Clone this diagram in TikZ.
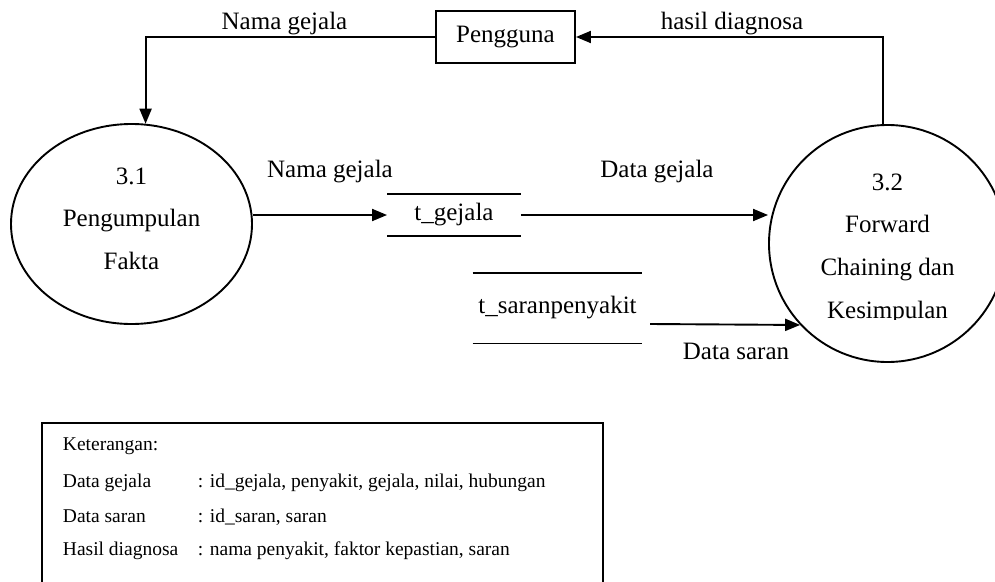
\documentclass[tikz,border=0pt]{standalone}
\usepackage{fontspec}
\setmainfont{Liberation Serif}
\usetikzlibrary{arrows.meta,shapes.geometric}

\begin{document}
\begin{tikzpicture}[x=1pt,y=-1pt,>={Triangle[length=15pt,width=12pt]},line width=1.9pt,
  flow/.style={->},
  process/.style={draw,inner sep=0pt},
  process text/.style={align=center,inner sep=0pt,font=\fontsize{25}{42.9}\selectfont},
  store/.style={inner sep=0pt,font=\fontsize{25}{30}\selectfont},
  flow label/.style={anchor=base,inner sep=0pt,font=\fontsize{25}{30}\selectfont},
  legend text/.style={anchor=base west,inner sep=0pt,font=\fontsize{19.5}{24}\selectfont}]

  \useasboundingbox (0,0) rectangle (995,581);

  \node[store,draw,minimum width=139pt,minimum height=52pt] (pengguna) at (505.5,37) {Pengguna};
  \node[process,ellipse,minimum width=241pt,minimum height=200pt] (p31) at (131.5,224) {};
  \node[process text] (p31txt) at (131.5,218.8) {3.1\\Pengumpulan\\Fakta};
  \node[process,circle,minimum size=237pt] (p32) at (887.5,243.5) {};
  \begin{scope}
    \clip (760,130) rectangle (995,319);
    \node[process text] (p32txt) at (887.5,248.8) {3.2\\Forward\\Chaining dan\\Kesimpulan};
  \end{scope}

  % data stores: only top and bottom lines
  \node[store,minimum width=132pt,minimum height=40pt] (tgejala) at (454,215) {t\_gejala};
  \node[store,minimum width=168pt,minimum height=69pt] (tsaran) at (557.5,308) {t\_saranpenyakit};
  \draw (tgejala.north west) -- (tgejala.north east)
        (tgejala.south west) -- (tgejala.south east);
  \draw (tsaran.north west) -- (tsaran.north east)
        (tsaran.south west) -- (tsaran.south east);

  % data flows
  \coordinate (saranout) at (650,324);
  \draw[flow] (pengguna.west) -| (p31.82);
  \draw[flow] (tgejala.west -| p31.east) -- (tgejala.west);
  \draw[flow] (tgejala.east) -- (tgejala.east -| p32.west);
  \draw[flow] (saranout) -- (p32.223);
  \draw[flow] (p32.92) |- (pengguna.east);

  \node[flow label] (lblnama) at (284.5,29.3) {Nama gejala};
  \node[flow label] (lblhasil) at (732,29.3) {hasil diagnosa};
  \node[flow label] (lblnama2) at (330,177) {Nama gejala};
  \node[flow label] (lbldata) at (657,177) {Data gejala};
  \node[flow label] (lblsaran) at (736,359) {Data saran};

  % keterangan
  \node[draw,anchor=north west,minimum width=561pt,minimum height=190pt] (legend) at (41,422) {};
  \node[legend text] (ket) at (62,450) {Keterangan:};
  \node[legend text] (kgejala) at (62,487.3) {Data gejala};
  \node[legend text] (kgejala2) at (197,487.3) {: id\_gejala, penyakit, gejala, nilai, hubungan};
  \node[legend text] (ksaran) at (62,522.3) {Data saran};
  \node[legend text] (ksaran2) at (197,522.3) {: id\_saran, saran};
  \node[legend text] (khasil) at (62,555.7) {Hasil diagnosa};
  \node[legend text] (khasil2) at (197,555.7) {: nama penyakit, faktor kepastian, saran};
\end{tikzpicture}
\end{document}
